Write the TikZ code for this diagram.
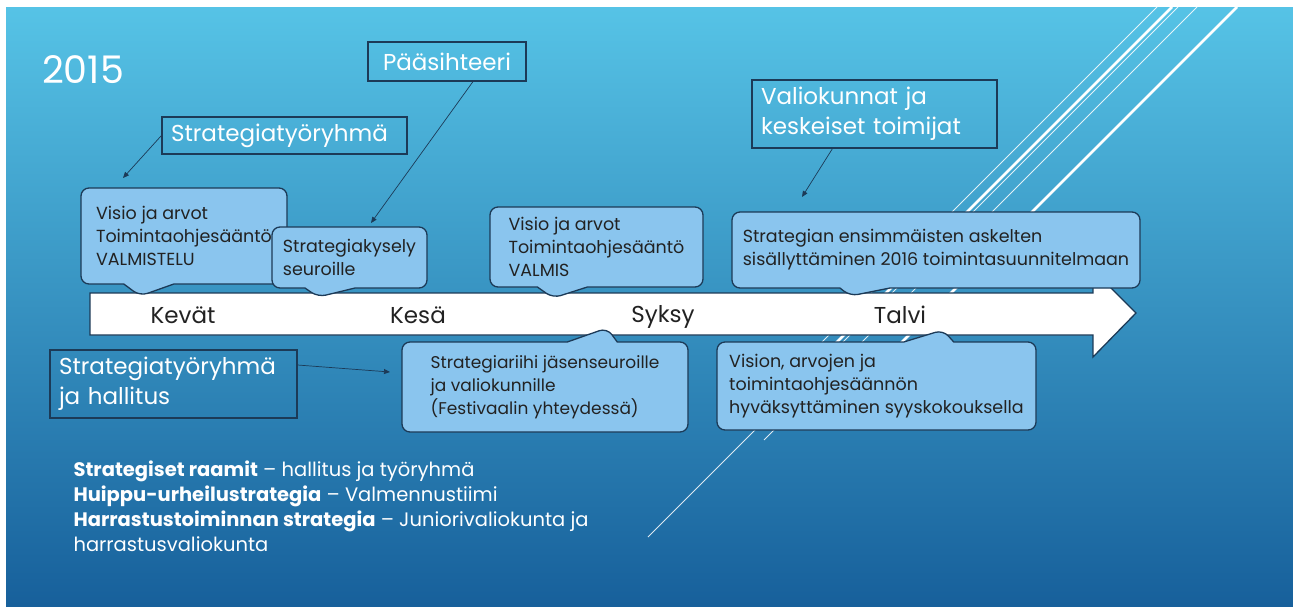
\documentclass[tikz,border=0pt]{standalone}
\usepackage{fontspec}
\setmainfont{Poppins}
\usepackage{tikz}
\usetikzlibrary{arrows.meta,positioning,shapes.callouts}
\usepackage{xcolor}
\definecolor{skytop}{HTML}{56C3E6}
\definecolor{skymid}{HTML}{2F90C4}
\definecolor{skybot}{HTML}{17609B}
\definecolor{navy}{HTML}{1C3A57}
\definecolor{bubblefill}{HTML}{8AC5EE}
\definecolor{ink}{HTML}{222222}

\begin{document}
\begin{tikzpicture}[
    x=1pt, y=-1pt,
    >=Triangle,
    tag/.style={draw=navy, line width=1.1pt, align=left, text=white,
                inner xsep=9pt, font=\fontsize{23}{30}\selectfont},
    bubble/.style={rectangle callout, draw=navy, fill=bubblefill, line width=1.3pt,
                   rounded corners=8pt, callout pointer width=50pt,
                   inner xsep=8pt, align=left, text=ink,
                   font=\fontsize{17.5}{23}\selectfont},
    season/.style={text=ink, font=\fontsize{23}{28}\selectfont},
    arr/.style={->, draw=navy, line width=0.7pt, >={Triangle[length=6pt,width=5pt]}},
    deco/.style={white, line width=0.8pt, opacity=0.85},
    decothick/.style={white, line width=2.6pt}
  ]
  \useasboundingbox (0,0) rectangle (1293,606);
  % background
  \fill[white] (0,0) rectangle (1293,606);
  \shade[top color=skytop, middle color=skymid, bottom color=skybot] (6,7) rectangle (1293,606);

  % diagonal lines
  \draw[deco]      (1157,7) -- (764,400);
  \draw[decothick] (1172,7) -- (759,420);
  \draw[deco]      (1178,7) -- (648,537);
  \draw[deco]      (1197,7) -- (764,440);
  \draw[decothick] (1237,7) -- (824,420);

  \node (year) [text=white, font=\fontsize{38}{44}\selectfont] at (83,70) {2015};

  % timeline
  \draw[fill=white, draw=navy, line width=1.3pt]
    (90,293) -- (1093,293) -- (1093,270) -- (1136,313) -- (1093,357) -- (1093,335) -- (90,335) -- cycle;
  \node (spring) [season] at (183,315) {Kevät};
  \node (summer) [season] at (418,315) {Kesä};
  \node (autumn) [season] at (663,317) {Syksy};
  \node (winter) [season] at (900,315) {Talvi};

  % callouts above
  \node (prep) [bubble, minimum width=206pt, minimum height=96pt,
                callout absolute pointer={(140,296)}] at (184,236)
        {Visio ja arvot\\Toimintaohjesääntö\\VALMISTELU};
  \node (poll) [bubble, minimum width=155pt, minimum height=61pt,
                callout absolute pointer={(318,297)}] at (349.5,257.5)
        {Strategiakysely\\seuroille};
  \node (ready) [bubble, minimum width=213pt, minimum height=80pt,
                 callout absolute pointer={(553,298)}] at (596.5,247)
        {Visio ja arvot\\Toimintaohjesääntö\\VALMIS};
  \node (plan) [bubble, minimum width=408pt, minimum height=76pt,
                callout absolute pointer={(850,296)}] at (936,250)
        {Strategian ensimmäisten askelten\\sisällyttäminen 2016 toimintasuunnitelmaan};

  % callouts below
  \node (forum) [bubble, minimum width=286pt, minimum height=90pt,
                 font=\fontsize{17}{23}\selectfont,
                 callout absolute pointer={(607,328)}] at (545,387)
        {Strategiariihi jäsenseuroille\\ja valiokunnille\\(Festivaalin yhteydessä)};
  \node (approve) [bubble, minimum width=319pt, minimum height=88pt,
                   callout absolute pointer={(943,330)}] at (876.5,386)
        {Vision, arvojen ja\\toimintaohjesäännön\\hyväksyttäminen syyskokouksella};

  % actors
  \node (sg)    [tag, minimum width=245pt, minimum height=37pt, text width=227pt]
        at (284.5,135.5) {Strategiatyöryhmä};
  \node (gs)    [tag, minimum width=158pt, minimum height=39pt] at (447,61.5) {Pääsihteeri};
  \node (comm)  [tag, minimum width=245pt, minimum height=68pt, text width=227pt]
        at (874.5,114) {Valiokunnat ja\\keskeiset toimijat};
  \node (board) [tag, minimum width=247pt, minimum height=68pt, text width=229pt]
        at (173.5,384) {Strategiatyöryhmä\\ja hallitus};

  \coordinate (sgend)    at (123,178);
  \coordinate (gsend)    at (371,223);
  \coordinate (commend)  at (802,197);
  \coordinate (boardend) at (390,372);

  \draw[arr] (sg.west) -- (sgend);
  \draw[arr] ([xshift=26pt]gs.south) -- (gsend);
  \draw[arr] ([xshift=-42pt]comm.south) -- (commend);
  \draw[arr] ([yshift=19pt]board.east) -- (boardend);

  % owners
  \node (owners) [anchor=north west, align=left, text=white,
                  font=\fontsize{19.5}{25}\selectfont] at (70,457)
        {\textbf{Strategiset raamit} – hallitus ja työryhmä\\
         \textbf{Huippu-urheilustrategia} – Valmennustiimi\\
         \textbf{Harrastustoiminnan strategia} – Juniorivaliokunta ja\\
         harrastusvaliokunta};
\end{tikzpicture}
\end{document}
